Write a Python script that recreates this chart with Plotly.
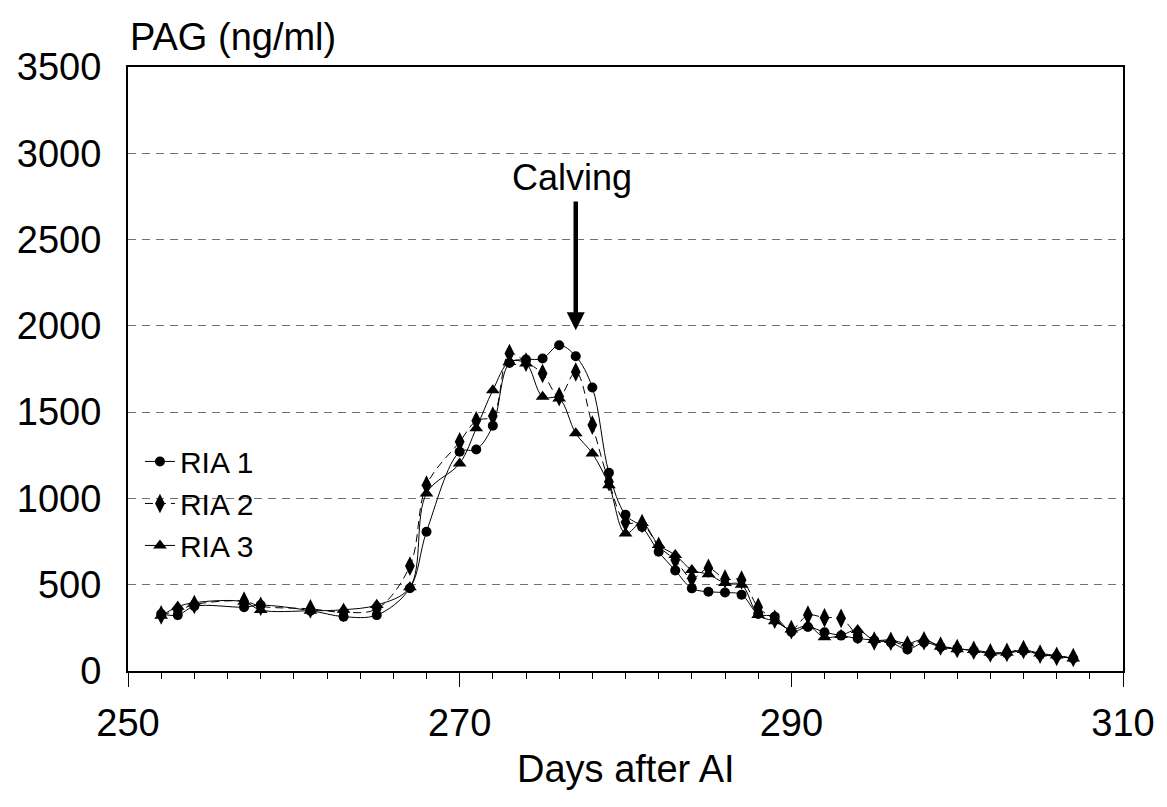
import plotly.graph_objects as go

days = [252, 253, 254, 257, 258, 261, 263, 265, 267, 268, 270, 271, 272, 273, 274, 275,
        276, 277, 278, 279, 280, 281, 282, 283, 284, 285, 286, 287, 288, 289, 290, 291,
        292, 293, 294, 295, 296, 297, 298, 299, 300, 301, 302, 303, 304, 305, 306, 307]

ria1 = [330, 324, 375, 370, 382, 350, 315, 324, 480, 807, 1270, 1284, 1421, 1785, 1805, 1811,
        1888, 1824, 1643, 1149, 905, 834, 691, 583, 479, 459, 455, 442, 330, 315, 228, 255,
        225, 205, 189, 178, 165, 125, 165, 140, 128, 118, 100, 102, 118, 95, 85, 72]

ria2 = [325, 350, 385, 405, 375, 360, 340, 360, 608, 1077, 1328, 1450, 1477, 1840, 1790, 1724,
        1590, 1733, 1425, 1097, 862, 855, 722, 643, 537, 595, 533, 527, 369, 300, 240, 324,
        309, 305, 210, 174, 172, 150, 175, 145, 130, 120, 105, 108, 125, 98, 85, 78]

ria3 = [320, 372, 396, 401, 353, 349, 355, 382, 485, 1029, 1203, 1406, 1627, 1791, 1782, 1589,
        1579, 1377, 1261, 1077, 797, 857, 730, 672, 585, 560, 510, 500, 324, 288, 240, 262,
        195, 208, 237, 180, 180, 160, 183, 141, 126, 122, 106, 106, 122, 102, 90, 73]

series_names = ["RIA 1", "RIA 2", "RIA 3"]
calving_day = 277
calving_tip = 1975
calving_tail = 2730

FONT = "Liberation Sans, Arial, sans-serif"

fig = go.Figure()
fig.add_trace(go.Scatter(x=days, y=ria1, name=series_names[0], mode="lines+markers",
                         line=dict(color="black", width=1, shape="spline", smoothing=1),
                         marker=dict(symbol="circle", size=10, color="black")))
fig.add_trace(go.Scatter(x=days, y=ria2, name=series_names[1], mode="lines+markers",
                         line=dict(color="black", width=1, dash="8px,5px", shape="spline", smoothing=1),
                         marker=dict(symbol="diamond-tall", size=14, color="black")))
fig.add_trace(go.Scatter(x=days, y=ria3, name=series_names[2], mode="lines+markers",
                         line=dict(color="black", width=1, shape="spline", smoothing=1),
                         marker=dict(symbol="triangle-up", size=12, color="black")))

fig.add_annotation(x=calving_day, y=calving_tip, ax=calving_day, ay=calving_tail,
                   xref="x", yref="y", axref="x", ayref="y", text="", showarrow=True,
                   arrowhead=2, arrowsize=0.8, arrowwidth=4.5, arrowcolor="black")
fig.add_annotation(x=calving_day - 0.2, y=calving_tail, xref="x", yref="y", text="Calving",
                   showarrow=False, yanchor="bottom", yshift=0,
                   font=dict(family=FONT, size=36, color="black"))
fig.add_annotation(x=0, y=1.0, xref="paper", yref="paper", text="PAG (ng/ml)",
                   showarrow=False, xanchor="left", yanchor="bottom", yshift=7,
                   font=dict(family=FONT, size=38, color="black"))
fig.add_annotation(x=0.5, y=-0.163, xref="paper", yref="paper", text="Days after AI",
                   showarrow=False, xanchor="center", yanchor="middle",
                   font=dict(family=FONT, size=38, color="black"))

fig.update_layout(
    width=1167, height=807,
    margin=dict(l=128, r=40, t=67, b=136),
    paper_bgcolor="white", plot_bgcolor="white",
    font=dict(family=FONT, color="black"),
    showlegend=True,
    legend=dict(x=0.012, y=0.39, xanchor="left", yanchor="top",
                bgcolor="rgba(0,0,0,0)", font=dict(family=FONT, size=30, color="black"),
                tracegroupgap=0),
    xaxis=dict(range=[250, 310], dtick=20, tick0=250, showgrid=False, zeroline=False,
               showline=True, linecolor="black", linewidth=2, mirror=True,
               ticks="outside", ticklen=14, tickwidth=1, tickcolor="black",
               minor=dict(dtick=2, ticks="outside", ticklen=6, tickwidth=1, tickcolor="black", showgrid=False),
               tickfont=dict(family=FONT, size=38, color="black"), ticklabelstandoff=3),
    yaxis=dict(range=[0, 3500], dtick=500, showgrid=True, gridcolor="#707070", gridwidth=1,
               griddash="8px,6px", zeroline=False,
               showline=True, linecolor="black", linewidth=2, mirror=True, ticks="",
               tickfont=dict(family=FONT, size=38, color="black"), ticklabelstandoff=17),
)

fig.write_html("out.html")
